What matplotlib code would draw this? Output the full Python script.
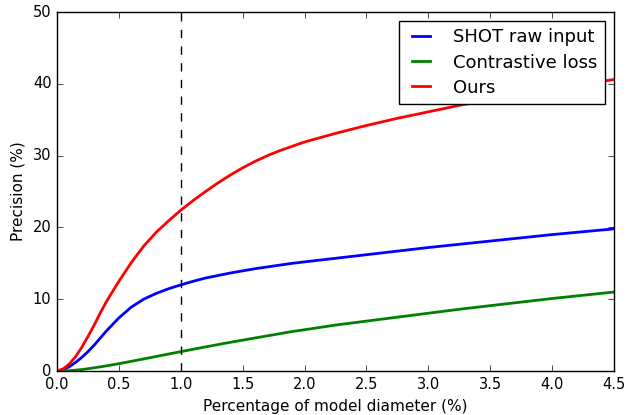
import numpy as np
import matplotlib
matplotlib.use('Agg')
import matplotlib.pyplot as plt

plt.style.use('classic')

# values
x = [0, 0.05, 0.1, 0.15, 0.2, 0.25, 0.3, 0.35, 0.4, 0.45, 0.5, 0.6, 0.7, 0.8, 0.9,
     1.0, 1.1, 1.2, 1.3, 1.4, 1.5, 1.6, 1.7, 1.8, 1.9, 2.0,
     2.25, 2.5, 2.75, 3.0, 3.25, 3.5, 3.75, 4.0, 4.25, 4.5]
shot = [0, 0.2, 0.6, 1.2, 1.9, 2.7, 3.6, 4.6, 5.6, 6.5, 7.4, 8.9, 10.0, 10.8, 11.45,
        12.0, 12.5, 12.95, 13.3, 13.65, 13.95, 14.25, 14.5, 14.75, 15.0, 15.2,
        15.7, 16.2, 16.7, 17.2, 17.65, 18.1, 18.55, 19.0, 19.4, 19.8]
contrastive = [0, 0.0, 0.05, 0.12, 0.2, 0.32, 0.45, 0.58, 0.72, 0.87, 1.02, 1.35, 1.68, 2.02, 2.36,
               2.7, 3.03, 3.36, 3.68, 4.0, 4.3, 4.6, 4.9, 5.2, 5.5, 5.75,
               6.4, 6.95, 7.5, 8.05, 8.6, 9.1, 9.6, 10.1, 10.55, 11.0]
ours = [0, 0.3, 1.0, 2.0, 3.3, 4.8, 6.4, 8.1, 9.7, 11.1, 12.5, 15.1, 17.4, 19.3, 20.9,
        22.4, 23.75, 25.0, 26.2, 27.3, 28.3, 29.2, 30.0, 30.7, 31.3, 31.9,
        33.1, 34.2, 35.2, 36.1, 37.0, 37.8, 38.6, 39.3, 40.0, 40.6]

fig = plt.figure(figsize=(6.37, 4.15), dpi=100, facecolor='white')
ax = fig.add_axes([0.0895, 0.106, 0.8745, 0.865])

ax.plot(x, shot, color='b', linewidth=2, label='SHOT raw input')
ax.plot(x, contrastive, color='g', linewidth=2, label='Contrastive loss')
ax.plot(x, ours, color='r', linewidth=2, label='Ours')
ax.axvline(1.0, color='k', linestyle='--', linewidth=1)

ax.set_xlim(0, 4.5)
ax.set_ylim(0, 50)
ax.set_xticks(np.arange(0, 4.51, 0.5))
ax.set_yticks(np.arange(0, 51, 10))
ax.tick_params(labelsize=10.5)
ax.set_xlabel('Percentage of model diameter (%)', fontsize=11)
ax.set_ylabel('Precision (%)', fontsize=11)
ax.legend(loc='upper right', fontsize=13, handlelength=1.6, handletextpad=1.0,
          labelspacing=0.4)

fig.savefig('out.png', dpi=100, facecolor='white')
